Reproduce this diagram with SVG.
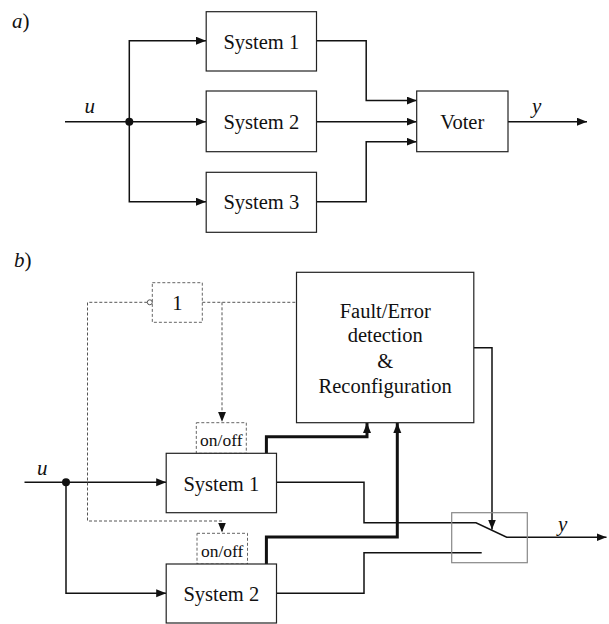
<svg xmlns="http://www.w3.org/2000/svg" width="609" height="624" viewBox="0 0 609 624">
  <style>
    .box { fill: #fff; stroke: #222; stroke-width: 1.2; }
    .gbox { fill: none; stroke: #888; stroke-width: 1.2; }
    .dbox { fill: none; stroke: #666; stroke-width: 1; stroke-dasharray: 3 2; }
    .txt { font-family: 'Liberation Serif', 'DejaVu Serif', serif; font-size: 20.5px; fill: #111; text-anchor: middle; }
    .sm { font-size: 17.5px; }
    .lbl { font-family: 'Liberation Serif', 'DejaVu Serif', serif; font-size: 21px; font-style: italic; fill: #111; }
    .ln { fill: none; stroke: #111; stroke-width: 1.5; }
    .thick { fill: none; stroke: #111; stroke-width: 3; }
    .dash { fill: none; stroke: #555; stroke-width: 1; stroke-dasharray: 3 2; }
  </style>
  <defs>
    <marker id="arr" markerUnits="userSpaceOnUse" markerWidth="11" markerHeight="9" refX="10" refY="4" orient="auto">
      <path d="M0,0 L10,4 L0,8 z" fill="#111" stroke="none"/>
    </marker>
  </defs>

  <!-- panel labels -->
  <text class="lbl" x="12" y="28">a<tspan font-style="normal">)</tspan></text>
  <text class="lbl" x="14" y="267">b<tspan font-style="normal">)</tspan></text>

  <!-- connectors -->
  <g id="connectors">
    <!-- panel a -->
    <path class="ln" d="M65,121.7 H206" marker-end="url(#arr)"/>
    <path class="ln" d="M129.3,121.7 V40.7 H206" marker-end="url(#arr)"/>
    <path class="ln" d="M129.3,121.7 V201.7 H206" marker-end="url(#arr)"/>
    <path class="ln" d="M316.5,40.7 H366.2 V100.5 H416.7" marker-end="url(#arr)"/>
    <path class="ln" d="M316.5,121.7 H416.7" marker-end="url(#arr)"/>
    <path class="ln" d="M316.5,201.7 H366.2 V141.7 H416.7" marker-end="url(#arr)"/>
    <path class="ln" d="M508,121.7 H587" marker-end="url(#arr)"/>
    <circle cx="129.3" cy="121.7" r="4" fill="#111"/>

    <!-- panel b -->
    <path class="ln" d="M24.5,482.3 H166.2" marker-end="url(#arr)"/>
    <path class="ln" d="M66,482.3 V593.3 H166.2" marker-end="url(#arr)"/>
    <circle cx="66" cy="482.3" r="4" fill="#111"/>
    <path class="thick" d="M266.4,453.3 V436.7 H367 V423" marker-end="url(#arr)"/>
    <path class="thick" d="M266.4,564 V537 H397.3 V423" marker-end="url(#arr)"/>
    <path class="ln" d="M276.5,482.3 H364 V522.7 H476 L506.7,537.3 H606.5" marker-end="url(#arr)"/>
    <path class="ln" d="M276.5,593.3 H364 V552.7 H481.7"/>
    <path class="ln" d="M473.8,347.7 H492 V529.5" marker-end="url(#arr)"/>
    <path class="dash" d="M147.3,302.3 H87.5 V521 H222 V532.5" marker-end="url(#arr)"/>
    <path class="dash" d="M202.3,302.3 H296.5"/>
    <path class="dash" d="M222,302.3 V421.8" marker-end="url(#arr)"/>
    <circle cx="149.8" cy="302.3" r="2.5" fill="#fff" stroke="#555" stroke-width="1"/>
  </g>

  <!-- panel a nodes -->
  <g id="a-system1">
    <rect class="box" x="206.2" y="11.7" width="110.3" height="59.3"/>
    <text class="txt" x="261.3" y="48.5">System 1</text>
  </g>
  <g id="a-system2">
    <rect class="box" x="206.2" y="91" width="110.3" height="60.7"/>
    <text class="txt" x="261.3" y="128.5">System 2</text>
  </g>
  <g id="a-system3">
    <rect class="box" x="206.2" y="172.3" width="110.3" height="60"/>
    <text class="txt" x="261.3" y="209.3">System 3</text>
  </g>
  <g id="a-voter">
    <rect class="box" x="416.7" y="91" width="91.3" height="60.7"/>
    <text class="txt" x="462.3" y="128.5">Voter</text>
  </g>
  <text class="lbl" x="84.5" y="113">u</text>
  <text class="lbl" x="532" y="113">y</text>

  <!-- panel b nodes -->
  <g id="b-not">
    <rect class="dbox" x="152.3" y="282.7" width="50" height="39.6"/>
    <text class="txt" x="177.3" y="310" font-size="21">1</text>
  </g>
  <g id="b-fdr">
    <rect class="box" x="296.5" y="272.3" width="177.3" height="150.4"/>
    <text class="txt" x="385.2" y="317.5">Fault/Error</text>
    <text class="txt" x="385.2" y="342">detection</text>
    <text class="txt" x="385.2" y="368">&amp;</text>
    <text class="txt" x="385.2" y="393">Reconfiguration</text>
  </g>
  <g id="b-onoff1">
    <rect class="dbox" x="196.3" y="422.7" width="50" height="30.6"/>
    <text class="txt sm" x="221.3" y="446">on/off</text>
  </g>
  <g id="b-onoff2">
    <rect class="dbox" x="197" y="533.3" width="50.5" height="30.7"/>
    <text class="txt sm" x="222.2" y="556.5">on/off</text>
  </g>
  <g id="b-system1">
    <rect class="box" x="166.2" y="453.3" width="110.3" height="59.4"/>
    <text class="txt" x="221.3" y="490.7">System 1</text>
  </g>
  <g id="b-system2">
    <rect class="box" x="166.2" y="564" width="110.3" height="59"/>
    <text class="txt" x="221.3" y="600.5">System 2</text>
  </g>
  <g id="b-switch">
    <rect class="gbox" x="451.7" y="512.7" width="75.6" height="50"/>
  </g>
  <text class="lbl" x="37" y="475">u</text>
  <text class="lbl" x="558" y="531">y</text>
</svg>
